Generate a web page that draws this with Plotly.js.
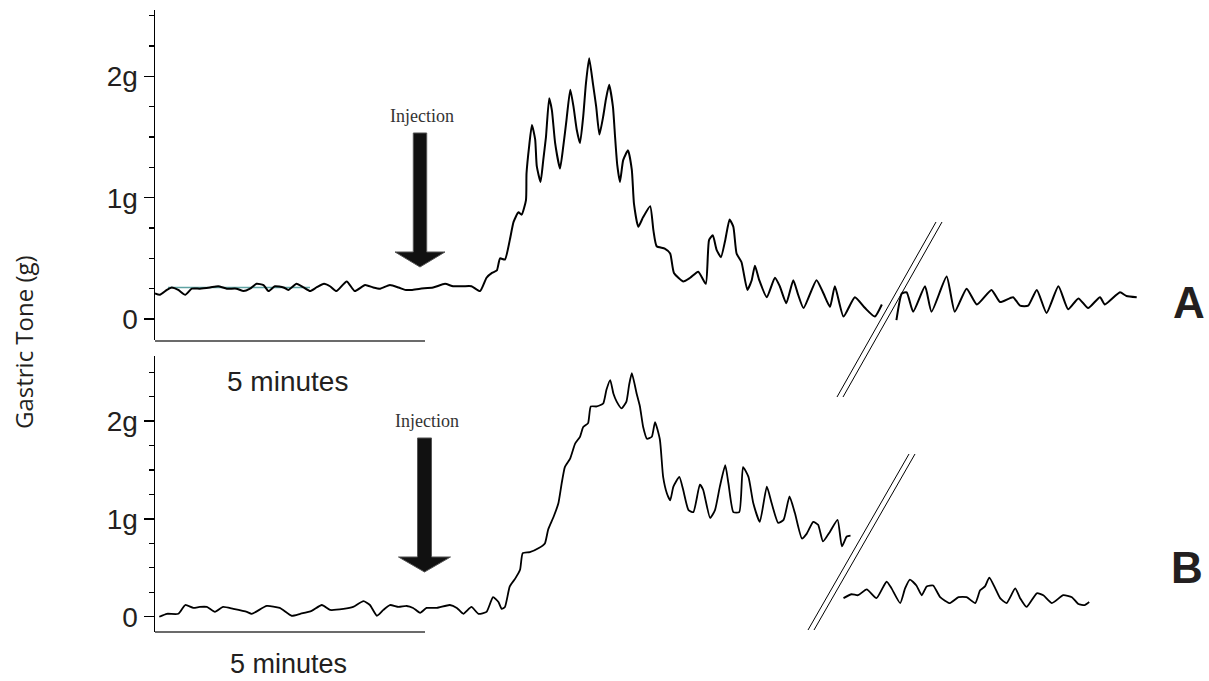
<!DOCTYPE html>
<html><head><meta charset="utf-8">
<script src="https://cdn.plot.ly/plotly-3.0.1.min.js"></script>
<style>html,body{margin:0;padding:0;background:#fff;}#chart{width:1209px;height:681px;}</style>
</head><body><div id="chart"></div>
<script>
// ---- Data (time in minutes, tone in grams) ----
const timeA1 = [0.00,0.09,0.22,0.31,0.43,0.56,0.68,0.83,1.02,1.17,1.33,1.51,1.64,1.76,1.88,2.01,2.10,2.22,2.38,2.47,2.62,2.75,2.87,2.99,3.13,3.24,3.36,3.55,3.70,3.89,4.04,4.17,4.35,4.51,4.63,4.75,4.91,5.15,5.37,5.52,5.71,5.86,6.02,6.14,6.24,6.33,6.39,6.48,6.57,6.64,6.73,6.79,6.87,6.88,6.93,6.98,7.04,7.07,7.14,7.19,7.24,7.30,7.35,7.41,7.50,7.56,7.62,7.69,7.75,7.81,7.87,7.93,7.98,8.04,8.11,8.17,8.23,8.30,8.35,8.41,8.48,8.52,8.56,8.61,8.67,8.76,8.83,8.87,8.95,9.04,9.17,9.23,9.29,9.44,9.54,9.61,9.78,9.91,10.06,10.20,10.26,10.33,10.40,10.48,10.56,10.64,10.71,10.77,10.86,10.97,11.05,11.11,11.19,11.33,11.48,11.57,11.69,11.82,11.91,12.01,12.25,12.38,12.50,12.59,12.75,12.96,13.15,13.33,13.46];
const toneA1 = [0.21,0.20,0.24,0.26,0.24,0.20,0.25,0.25,0.26,0.27,0.25,0.25,0.23,0.25,0.29,0.28,0.23,0.27,0.26,0.24,0.29,0.26,0.23,0.26,0.29,0.27,0.23,0.31,0.23,0.28,0.26,0.25,0.28,0.26,0.24,0.24,0.25,0.26,0.29,0.27,0.27,0.27,0.23,0.34,0.38,0.40,0.50,0.49,0.65,0.80,0.88,0.86,0.98,1.20,1.43,1.60,1.48,1.26,1.13,1.31,1.50,1.82,1.72,1.45,1.24,1.42,1.64,1.89,1.75,1.56,1.45,1.67,1.94,2.15,1.94,1.75,1.52,1.67,1.81,1.93,1.75,1.50,1.27,1.13,1.31,1.39,1.23,0.95,0.76,0.84,0.93,0.73,0.60,0.58,0.54,0.38,0.31,0.34,0.39,0.29,0.65,0.69,0.57,0.51,0.65,0.82,0.76,0.54,0.47,0.24,0.32,0.44,0.32,0.18,0.34,0.27,0.13,0.32,0.20,0.09,0.32,0.21,0.10,0.27,0.02,0.18,0.09,0.02,0.12];
const timeA2 = [13.73,13.83,13.92,14.04,14.26,14.38,14.66,14.81,15.03,15.22,15.49,15.65,15.89,16.02,16.17,16.33,16.51,16.73,16.91,17.10,17.28,17.50,17.59,17.87,17.99,18.18];
const toneA2 = [-0.01,0.21,0.22,0.06,0.27,0.06,0.35,0.06,0.25,0.12,0.24,0.14,0.18,0.11,0.11,0.24,0.05,0.27,0.08,0.17,0.09,0.18,0.12,0.22,0.19,0.18];
const baselineTimeA = [0.24, 2.87];
const baselineToneA = [0.26, 0.26];

const timeB1 = [0.08,0.22,0.43,0.56,0.71,0.83,0.96,1.11,1.26,1.45,1.70,1.79,2.07,2.31,2.53,2.69,2.90,3.09,3.24,3.49,3.67,3.86,3.98,4.11,4.23,4.35,4.51,4.66,4.78,4.91,5.03,5.22,5.46,5.59,5.71,5.86,5.99,6.14,6.26,6.36,6.42,6.48,6.57,6.67,6.76,6.81,6.94,7.10,7.22,7.28,7.38,7.47,7.53,7.59,7.69,7.78,7.87,7.93,8.02,8.07,8.18,8.30,8.36,8.43,8.49,8.55,8.64,8.73,8.78,8.83,8.92,8.98,9.04,9.11,9.20,9.26,9.35,9.41,9.48,9.54,9.60,9.71,9.78,9.88,9.97,10.09,10.15,10.28,10.37,10.46,10.56,10.62,10.71,10.82,10.89,10.99,11.08,11.20,11.33,11.42,11.54,11.64,11.75,11.85,11.98,12.07,12.19,12.28,12.37,12.50,12.64,12.72,12.81,12.88];
const toneB1 = [0.00,0.03,0.03,0.12,0.09,0.10,0.10,0.05,0.10,0.08,0.05,0.03,0.11,0.09,0.01,0.03,0.06,0.12,0.07,0.08,0.10,0.16,0.12,0.01,0.07,0.12,0.10,0.11,0.09,0.04,0.09,0.09,0.12,0.09,0.03,0.10,0.03,0.05,0.20,0.15,0.08,0.10,0.31,0.39,0.48,0.65,0.66,0.70,0.75,0.89,1.02,1.16,1.36,1.53,1.62,1.77,1.84,1.94,1.98,2.15,2.15,2.18,2.32,2.42,2.28,2.20,2.13,2.20,2.37,2.49,2.28,2.15,1.94,1.82,1.84,1.99,1.81,1.43,1.26,1.19,1.33,1.43,1.30,1.09,1.07,1.35,1.30,1.01,1.09,1.33,1.55,1.36,1.07,1.07,1.53,1.43,1.16,0.97,1.33,1.16,0.96,0.99,1.23,1.06,0.80,0.85,0.97,0.94,0.77,0.87,0.99,0.72,0.82,0.83];
const timeB2 = [12.75,12.90,13.02,13.18,13.36,13.49,13.55,13.64,13.80,13.89,13.98,14.10,14.20,14.29,14.41,14.54,14.72,14.88,15.03,15.19,15.28,15.37,15.45,15.56,15.65,15.77,15.93,16.02,16.14,16.33,16.45,16.61,16.82,16.98,17.10,17.22,17.30];
const toneB2 = [0.19,0.23,0.22,0.28,0.19,0.31,0.36,0.29,0.14,0.29,0.38,0.32,0.22,0.31,0.32,0.20,0.14,0.20,0.20,0.14,0.27,0.31,0.40,0.29,0.19,0.14,0.29,0.19,0.10,0.24,0.22,0.14,0.22,0.20,0.13,0.12,0.15];

const tickVals = [0, 1, 2];
const tickText = ['0', '1g', '2g'];
const scaleBarMinutes = 5;

// ---- Layout helpers (pixel -> paper) ----
const W = 1209, H = 681;
const px = x => x / W;
const py = y => 1 - y / H;

function arrowPath(cx, halfShaft, top, headTop, tip, halfHead) {
  const pts = [[cx - halfShaft, top],[cx + halfShaft, top],[cx + halfShaft, headTop],[cx + halfHead, headTop],[cx, tip],[cx - halfHead, headTop],[cx - halfShaft, headTop]];
  return 'M ' + pts.map(p => px(p[0]).toFixed(5) + ',' + py(p[1]).toFixed(5)).join(' L ') + ' Z';
}

const lineA = {color: '#000', width: 2, shape: 'spline', smoothing: 0.5};
const lineB = {color: '#000', width: 1.8, shape: 'spline', smoothing: 0.5};
const traces = [
  {x: baselineTimeA, y: baselineToneA, xaxis: 'x', yaxis: 'y', mode: 'lines', line: {color: '#5fa3a3', width: 1.5}, hoverinfo: 'skip'},
  {x: timeA1, y: toneA1, xaxis: 'x', yaxis: 'y', mode: 'lines', line: lineA},
  {x: timeA2, y: toneA2, xaxis: 'x', yaxis: 'y', mode: 'lines', line: lineA},
  {x: timeB1, y: toneB1, xaxis: 'x2', yaxis: 'y2', mode: 'lines', line: lineB},
  {x: timeB2, y: toneB2, xaxis: 'x2', yaxis: 'y2', mode: 'lines', line: lineB}
];

const xRange = [0, (W - 155) / 54];
const xCommon = {domain: [px(155), 1], range: xRange, visible: false, fixedrange: true};
const yCommon = {
  tickmode: 'array', tickvals: tickVals, ticktext: tickText,
  ticks: 'outside', ticklen: 10, tickwidth: 1.5, tickcolor: '#000',
  showline: true, linecolor: '#000', linewidth: 1.5,
  showgrid: false, zeroline: false,
  tickfont: {family: 'Liberation Sans, Arial, sans-serif', size: 28, color: '#231f20'},
  minor: {dtick: 0.25, tick0: 0, ticks: 'outside', ticklen: 5, tickwidth: 1.2, tickcolor: '#000', showgrid: false}
};

const layout = {
  width: W, height: H,
  margin: {l: 0, r: 0, t: 0, b: 0},
  paper_bgcolor: '#fff', plot_bgcolor: 'rgba(0,0,0,0)',
  showlegend: false,
  xaxis: Object.assign({}, xCommon, {anchor: 'y'}),
  xaxis2: Object.assign({}, xCommon, {anchor: 'y2'}),
  yaxis: Object.assign({}, yCommon, {domain: [py(340), py(10)], range: [-0.173, 2.547], anchor: 'x'}),
  yaxis2: Object.assign({}, yCommon, {domain: [py(632), py(356)], range: [-0.156, 2.666], anchor: 'x2'}),
  shapes: [
    {type: 'line', xref: 'x', yref: 'paper', x0: 0, x1: scaleBarMinutes, y0: py(341), y1: py(341), line: {color: '#6b6b6b', width: 2}},
    {type: 'line', xref: 'x2', yref: 'paper', x0: 0, x1: scaleBarMinutes, y0: py(632), y1: py(632), line: {color: '#6b6b6b', width: 2}},
    {type: 'line', xref: 'paper', yref: 'paper', x0: px(837), y0: py(397), x1: px(936), y1: py(222), line: {color: '#000', width: 1}},
    {type: 'line', xref: 'paper', yref: 'paper', x0: px(843), y0: py(397), x1: px(942), y1: py(222), line: {color: '#000', width: 1}},
    {type: 'line', xref: 'paper', yref: 'paper', x0: px(808), y0: py(630), x1: px(909), y1: py(454), line: {color: '#000', width: 1}},
    {type: 'line', xref: 'paper', yref: 'paper', x0: px(814), y0: py(630), x1: px(915), y1: py(454), line: {color: '#000', width: 1}},
    {type: 'path', xref: 'paper', yref: 'paper', path: arrowPath(420, 6.7, 133, 252, 267, 25), fillcolor: '#111', line: {color: '#555', width: 1}},
    {type: 'path', xref: 'paper', yref: 'paper', path: arrowPath(424.5, 7, 438, 557, 572, 26), fillcolor: '#111', line: {color: '#555', width: 1}}
  ],
  annotations: [
    {text: 'Injection', xref: 'paper', yref: 'paper', x: px(422), y: py(116), showarrow: false, xanchor: 'center', yanchor: 'middle', font: {family: 'Liberation Serif, serif', size: 18, color: '#333'}},
    {text: 'Injection', xref: 'paper', yref: 'paper', x: px(427), y: py(421), showarrow: false, xanchor: 'center', yanchor: 'middle', font: {family: 'Liberation Serif, serif', size: 18, color: '#333'}},
    {text: '5 minutes', xref: 'paper', yref: 'paper', x: px(287), y: py(381), showarrow: false, xanchor: 'center', yanchor: 'middle', font: {family: 'Liberation Sans, Arial, sans-serif', size: 28, color: '#231f20'}},
    {text: '5 minutes', xref: 'paper', yref: 'paper', x: px(288), y: py(681), showarrow: false, xanchor: 'center', yanchor: 'bottom', font: {family: 'Liberation Sans, Arial, sans-serif', size: 27, color: '#231f20'}},
    {text: '<b>A</b>', xref: 'paper', yref: 'paper', x: px(1189), y: py(302), showarrow: false, xanchor: 'center', yanchor: 'middle', font: {family: 'Liberation Sans, Arial, sans-serif', size: 44, color: '#231f20'}},
    {text: '<b>B</b>', xref: 'paper', yref: 'paper', x: px(1187), y: py(567), showarrow: false, xanchor: 'center', yanchor: 'middle', font: {family: 'Liberation Sans, Arial, sans-serif', size: 44, color: '#231f20'}},
    {text: 'Gastric Tone (g)', xref: 'paper', yref: 'paper', x: px(23), y: py(342), showarrow: false, textangle: -90, xanchor: 'center', yanchor: 'middle', font: {family: 'Open Sans, Noto Sans, sans-serif', size: 24, color: '#231f20'}}
  ]
};

Plotly.newPlot('chart', traces, layout, {displayModeBar: false, staticPlot: true});
</script>
</body></html>
